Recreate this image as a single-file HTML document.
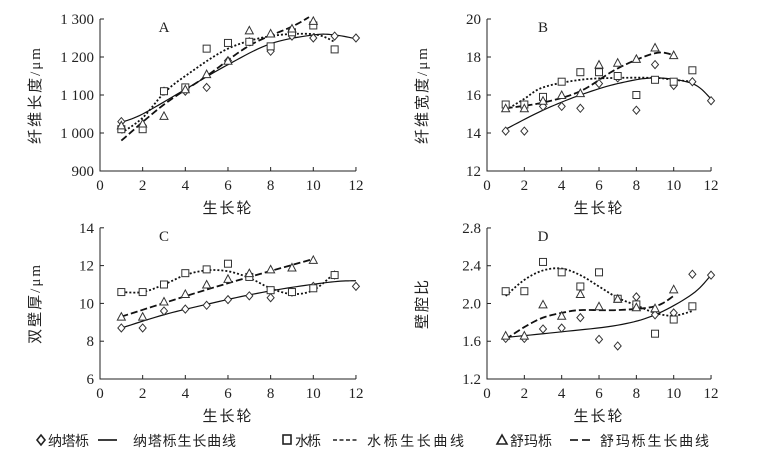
<!DOCTYPE html><html><head><meta charset="utf-8"><style>
body{margin:0;background:#fff;width:783px;height:457px;overflow:hidden}
text{font-family:"Liberation Serif","Noto Serif CJK SC",serif;fill:#222}
.cj{font-family:"Liberation Serif","Noto Sans CJK SC",sans-serif;letter-spacing:2px}
.lg{font-family:"Liberation Sans","Noto Sans CJK SC",sans-serif;letter-spacing:1px}
</style></head><body>
<svg id="s" width="783" height="457" xmlns="http://www.w3.org/2000/svg"></svg>
<script>
const S=document.getElementById('s');let h='';
function T(x,y,t,o){o=o||{};h+=`<text x="${x}" y="${y}" font-size="${o.fs||15}" text-anchor="${o.a||'middle'}" ${o.tr?`transform="${o.tr}"`:''} ${o.tl?`textLength="${o.tl}" lengthAdjust="spacing"`:''} class="${o.c||''}">${t}</text>`;}
function cr(pts){let r=[];for(let i=0;i<pts.length-1;i++){const p0=pts[Math.max(0,i-1)],p1=pts[i],p2=pts[i+1],p3=pts[Math.min(pts.length-1,i+2)];for(let t=0;t<1;t+=0.1){const t2=t*t,t3=t2*t;r.push([0.5*(2*p1[0]+(-p0[0]+p2[0])*t+(2*p0[0]-5*p1[0]+4*p2[0]-p3[0])*t2+(-p0[0]+3*p1[0]-3*p2[0]+p3[0])*t3),0.5*(2*p1[1]+(-p0[1]+p2[1])*t+(2*p0[1]-5*p1[1]+4*p2[1]-p3[1])*t2+(-p0[1]+3*p1[1]-3*p2[1]+p3[1])*t3)]);}}r.push(pts[pts.length-1]);return r;}
function panel(P){const X=v=>P.x0+v*P.sx, Y=v=>P.y0-(v-P.ymin)*P.sy;
 const yt=Y(P.ymax);
 h+=`<path d="M${P.x0},${yt}V${P.y0}H${X(12)}" stroke="#222" fill="none" stroke-width="1"/>`;
 for(let i=0;i<=12;i+=2){h+=`<line x1="${X(i)}" x2="${X(i)}" y1="${P.y0}" y2="${P.y0-4}" stroke="#222"/>`;T(X(i),P.y0+19,i);}
 P.yt.forEach(v=>{h+=`<line x1="${P.x0}" x2="${P.x0+4}" y1="${Y(v)}" y2="${Y(v)}" stroke="#222"/>`;T(P.x0-6,Y(v)+5,P.fmt(v),{a:'end'});});
 T(X(6),P.y0+42,'生长轮',{c:'cj',fs:15});
 const cx=P.x0-60,cy=(yt+P.y0)/2;
 T(cx,cy,P.yl,{c:'cj',fs:15,tr:`rotate(-90 ${cx} ${cy})`});
 T(X(3),yt+13,P.L,{fs:15});
 const curves=[[P.c1,''],[P.c2,'2,2'],[P.c3,'7,3']];
 curves.forEach(([c,d],k)=>{const pts=cr(c.map(q=>[X(q[0]),Y(q[1])]));h+=`<polyline points="${pts.map(p=>p.join(',')).join(' ')}" fill="none" stroke="#111" stroke-width="${k==0?1.2:1.8}" ${d?`stroke-dasharray="${d}"`:''}/>`;});
 P.d.forEach((v,i)=>{const x=X(i+1),y=Y(v);h+=`<path d="M${x},${y-4}L${x+3.5},${y}L${x},${y+4}L${x-3.5},${y}Z" fill="#fff" stroke="#333"/>`;});
 P.q.forEach((v,i)=>{const x=X(i+1),y=Y(v);h+=`<rect x="${x-3.5}" y="${y-3.5}" width="7" height="7" fill="#fff" stroke="#333"/>`;});
 P.t.forEach((v,i)=>{const x=X(i+1),y=Y(v);h+=`<path d="M${x},${y-4}L${x+4},${y+3.5}L${x-4},${y+3.5}Z" fill="#fff" stroke="#333"/>`;});
}
panel({x0:100,sx:21.33,y0:171,ymin:900,ymax:1300,sy:0.38,yt:[900,1000,1100,1200,1300],fmt:v=>v>=1000?'1 '+String(v).slice(1):v,yl:'纤维长度/μm',L:'A',
d:[1030,1020,1110,1110,1120,1190,1240,1215,1255,1250,1255,1250],
q:[1010,1010,1110,1120,1222,1237,1240,1228,1265,1283,1220],
t:[1020,1025,1045,1115,1155,1190,1270,1262,1275,1295],
c1:[[1,1028],[2,1050],[4,1115],[6,1180],[8,1235],[10,1258],[11,1258],[12,1248]],
c2:[[1,1000],[2,1040],[3,1105],[4,1150],[6,1222],[8,1255],[10,1260],[11,1240]],
c3:[[1,980],[3,1075],[5,1150],[7,1230],[9,1280],[9.8,1305]]});
panel({x0:487,sx:18.67,y0:171,ymin:12,ymax:20,sy:19,yt:[12,14,16,18,20],fmt:v=>v,yl:'纤维宽度/μm',L:'B',
d:[14.1,14.1,15.4,15.4,15.3,16.6,16.9,15.2,17.6,16.5,16.7,15.7],
q:[15.5,15.5,15.9,16.7,17.2,17.2,17,16,16.8,16.7,17.3],
t:[15.3,15.3,15.7,16,16.1,17.6,17.7,17.9,18.5,18.1],
c1:[[1,14.2],[3,15.2],[5,16],[7,16.6],[9,16.9],[11,16.6],[12,15.8]],
c2:[[1,15.2],[2,15.8],[3,16.4],[5,16.8],[7,16.9],[9,16.9],[10,16.8],[11,16.7]],
c3:[[1,15.3],[3,15.6],[5,16.2],[7,17.4],[9,18.2],[10,18.1]]});
panel({x0:100,sx:21.33,y0:379,ymin:6,ymax:14,sy:18.9,yt:[6,8,10,12,14],fmt:v=>v,yl:'双壁厚/μm',L:'C',
d:[8.7,8.7,9.6,9.7,9.9,10.2,10.4,10.3,10.6,10.9,11.5,10.9],
q:[10.6,10.6,11,11.6,11.8,12.1,11.4,10.7,10.6,10.8,11.5],
t:[9.3,9.3,10.1,10.5,11,11.3,11.6,11.8,11.9,12.3],
c1:[[1,8.7],[3,9.4],[5,9.95],[7,10.45],[9,10.85],[11,11.15],[12,11.2]],
c2:[[1,10.6],[2,10.6],[3,11],[4,11.5],[5,11.75],[6,11.7],[7,11.35],[8,10.8],[9,10.5],[10,10.7],[11,11.6]],
c3:[[1,9.3],[5.5,10.9],[10,12.35]]});
panel({x0:487,sx:18.67,y0:379,ymin:1.2,ymax:2.8,sy:94.4,yt:[1.2,1.6,2.0,2.4,2.8],fmt:v=>v.toFixed(1),yl:'壁腔比',L:'D',
d:[1.63,1.63,1.73,1.74,1.85,1.62,1.55,2.07,1.88,1.9,2.31,2.3],
q:[2.13,2.13,2.44,2.33,2.18,2.33,2.05,1.99,1.68,1.83,1.97],
t:[1.66,1.66,1.99,1.87,2.1,1.97,2.05,1.96,1.95,2.15],
c1:[[1,1.64],[4,1.7],[7,1.77],[9,1.88],[11,2.1],[12,2.3]],
c2:[[1,2.08],[2,2.25],[3,2.35],[4,2.37],[5,2.3],[6,2.18],[7,2.06],[8,1.98],[9,1.9],[10,1.87],[11,1.92]],
c3:[[1,1.62],[2,1.75],[3,1.85],[4,1.9],[5,1.93],[7,1.93],[9,1.97],[10,2.08]]});
const ly=446;
h+=`<path d="M41,${ly-11}L45,${ly-6}L41,${ly-1}L37,${ly-6}Z" fill="#fff" stroke="#222" stroke-width="1.6"/>`;
T(48,ly,'纳塔栎',{a:'start',c:'lg',fs:14,tl:42});
h+=`<line x1="98" x2="117" y1="${ly-6}" y2="${ly-6}" stroke="#222" stroke-width="1.8"/>`;
T(133,ly,'纳塔栎生长曲线',{a:'start',c:'lg',fs:14,tl:104});
h+=`<rect x="283" y="${ly-11}" width="8" height="9" fill="#fff" stroke="#222" stroke-width="1.6"/>`;
T(295,ly,'水栎',{a:'start',c:'lg',fs:14,tl:27});
h+=`<line x1="333" x2="357" y1="${ly-6}" y2="${ly-6}" stroke="#222" stroke-width="1.5" stroke-dasharray="4,2.5"/>`;
T(367,ly,'水栎生长曲线',{a:'start',c:'lg',fs:14,tl:98});
h+=`<path d="M502,${ly-11}L507,${ly-2}L497,${ly-2}Z" fill="#fff" stroke="#222" stroke-width="1.6"/>`;
T(510,ly,'舒玛栎',{a:'start',c:'lg',fs:14,tl:43});
h+=`<line x1="570" x2="591" y1="${ly-6}" y2="${ly-6}" stroke="#222" stroke-width="1.8" stroke-dasharray="8,4"/>`;
T(600,ly,'舒玛栎生长曲线',{a:'start',c:'lg',fs:14,tl:110});
S.innerHTML=h;
</script></body></html>
